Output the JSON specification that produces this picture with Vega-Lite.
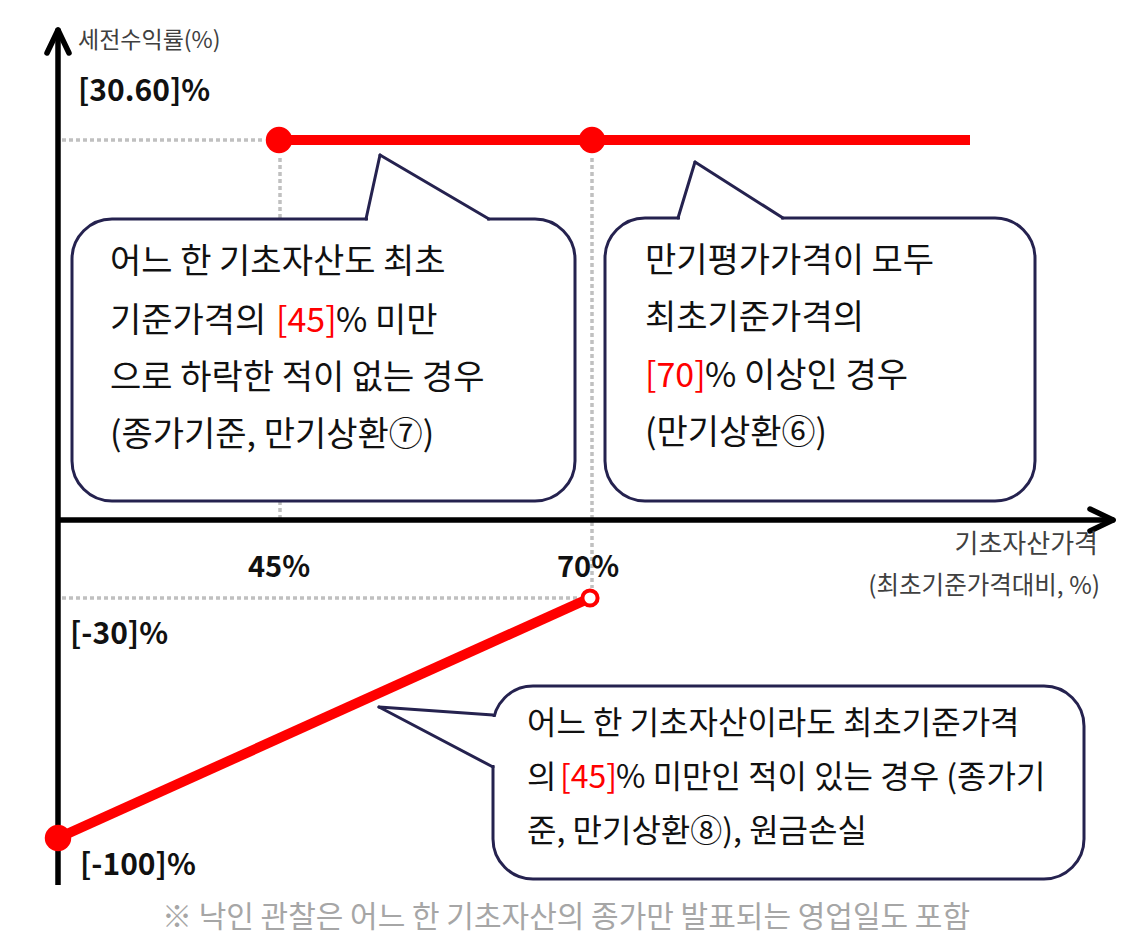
{
  "$schema": "https://vega.github.io/schema/vega-lite/v6.json",
  "width": 1142,
  "height": 949,
  "autosize": {"type": "fit", "contains": "padding"},
  "padding": 0,
  "background": "white",
  "config": {"view": {"stroke": null}},
  "datasets": {
    "guides": [
      {"x": 4, "y": 380, "x2": 205, "y2": 380},
      {"x": 222, "y": 362, "x2": 222, "y2": 0},
      {"x": 534, "y": 362, "x2": 534, "y2": -68},
      {"x": 4, "y": -78, "x2": 520, "y2": -78}
    ],
    "axes": [
      {"x": 0, "y": -365, "x2": 0, "y2": 488},
      {"x": 0, "y": 0, "x2": 1053, "y2": 0}
    ],
    "arrows": [
      {"x": -11, "y": 467, "x2": 0, "y2": 490},
      {"x": 11, "y": 467, "x2": 0, "y2": 490},
      {"x": 1032, "y": 11, "x2": 1055, "y2": 0},
      {"x": 1032, "y": -11, "x2": 1055, "y2": 0}
    ],
    "payoff": [
      {"x": 222, "y": 380, "x2": 912, "y2": 380},
      {"x": 0, "y": -318, "x2": 532, "y2": -78}
    ],
    "boxes": [
      {"x": 14, "y": 301, "x2": 517, "y2": 19},
      {"x": 547, "y": 302, "x2": 977, "y2": 19},
      {"x": 435, "y": -166, "x2": 1026, "y2": -359}
    ],
    "tailGaps": [
      {"x": 310, "y": 301, "x2": 429, "y2": 301},
      {"x": 622, "y": 302, "x2": 723, "y2": 302},
      {"x": 435, "y": -197, "x2": 435, "y2": -245}
    ],
    "tails": [
      {"x": 308, "y": 301, "x2": 322, "y2": 365},
      {"x": 322, "y": 365, "x2": 431, "y2": 301},
      {"x": 620, "y": 302, "x2": 637, "y2": 358},
      {"x": 637, "y": 358, "x2": 725, "y2": 302},
      {"x": 435, "y": -195, "x2": 321, "y2": -187},
      {"x": 321, "y": -187, "x2": 435, "y2": -247}
    ],
    "dots": [
      {"x": 221, "y": 380},
      {"x": 534, "y": 380},
      {"x": 0, "y": -318}
    ],
    "hollow": [
      {"x": 532, "y": -78}
    ],
    "topBoxText": [
      {"x": 52, "y": 257, "text": "어느 한 기초자산도 최초", "part": "body"},
      {"x": 52, "y": 198, "text": "기준가격의", "part": "body"},
      {"x": 218, "y": 198, "text": "[45]", "part": "highlight"},
      {"x": 278, "y": 198, "text": "% 미만", "part": "body"},
      {"x": 52, "y": 141, "text": "으로 하락한 적이 없는 경우", "part": "body"},
      {"x": 52, "y": 84, "text": "(종가기준, 만기상환⑦)", "part": "body"},
      {"x": 587, "y": 258, "text": "만기평가가격이 모두", "part": "body"},
      {"x": 587, "y": 201, "text": "최초기준가격의", "part": "body"},
      {"x": 587, "y": 143, "text": "[70]", "part": "highlight"},
      {"x": 647, "y": 143, "text": "% 이상인 경우", "part": "body"},
      {"x": 587, "y": 86, "text": "(만기상환⑥)", "part": "body"}
    ],
    "lowBoxText": [
      {"x": 469, "y": -204, "text": "어느 한 기초자산이라도 최초기준가격", "part": "body"},
      {"x": 469, "y": -258, "text": "의", "part": "body"},
      {"x": 502, "y": -258, "text": "[45]", "part": "highlight"},
      {"x": 558, "y": -258, "text": "% 미만인 적이 있는 경우 (종가기", "part": "body"},
      {"x": 469, "y": -312, "text": "준, 만기상환⑧), 원금손실", "part": "body"}
    ],
    "valueLeft": [
      {"x": 20, "y": 428, "text": "[30.60]%"},
      {"x": 12, "y": -115, "text": "[-30]%"},
      {"x": 22, "y": -346, "text": "[-100]%"}
    ],
    "valueCenter": [
      {"x": 221, "y": -48, "text": "45%"},
      {"x": 530, "y": -48, "text": "70%"}
    ],
    "yTitle": [
      {"x": 20, "y": 479, "text": "세전수익률(%)"}
    ],
    "xTitle": [
      {"x": 1040, "y": -25, "text": "기초자산가격", "size": "big"},
      {"x": 1042, "y": -67, "text": "(최초기준가격대비, %)", "size": "small"}
    ],
    "note": [
      {"x": 508, "y": -398, "text": "※ 낙인 관찰은 어느 한 기초자산의 종가만 발표되는 영업일도 포함"}
    ]
  },
  "encoding": {
    "x": {"field": "x", "type": "quantitative", "scale": {"domain": [-58, 1084], "nice": false, "zero": false}, "axis": null},
    "y": {"field": "y", "type": "quantitative", "scale": {"domain": [-429, 520], "nice": false, "zero": false}, "axis": null}
  },
  "layer": [
    {
      "data": {"name": "guides"},
      "mark": {"type": "rule", "stroke": "#c0c0c0", "strokeWidth": 3.5, "strokeDash": [4, 3]},
      "encoding": {"x2": {"field": "x2"}, "y2": {"field": "y2"}}
    },
    {
      "data": {"name": "axes"},
      "mark": {"type": "rule", "stroke": "black", "strokeWidth": 5.5},
      "encoding": {"x2": {"field": "x2"}, "y2": {"field": "y2"}}
    },
    {
      "data": {"name": "arrows"},
      "mark": {"type": "rule", "stroke": "black", "strokeWidth": 5.5, "strokeCap": "round"},
      "encoding": {"x2": {"field": "x2"}, "y2": {"field": "y2"}}
    },
    {
      "data": {"name": "payoff"},
      "mark": {"type": "rule", "stroke": "#ff0000", "strokeWidth": 10},
      "encoding": {"x2": {"field": "x2"}, "y2": {"field": "y2"}}
    },
    {
      "data": {"name": "boxes"},
      "mark": {"type": "rect", "fill": "white", "stroke": "#25224f", "strokeWidth": 3, "cornerRadius": 40},
      "encoding": {"x2": {"field": "x2"}, "y2": {"field": "y2"}}
    },
    {
      "data": {"name": "tailGaps"},
      "mark": {"type": "rule", "stroke": "white", "strokeWidth": 6},
      "encoding": {"x2": {"field": "x2"}, "y2": {"field": "y2"}}
    },
    {
      "data": {"name": "tails"},
      "mark": {"type": "rule", "stroke": "#25224f", "strokeWidth": 3, "strokeCap": "round"},
      "encoding": {"x2": {"field": "x2"}, "y2": {"field": "y2"}}
    },
    {
      "data": {"name": "dots"},
      "mark": {"type": "point", "shape": "circle", "filled": true, "color": "#ff0000", "opacity": 1, "size": 700}
    },
    {
      "data": {"name": "hollow"},
      "mark": {"type": "point", "shape": "circle", "filled": false, "fill": "white", "fillOpacity": 1, "stroke": "#ff0000", "strokeWidth": 4, "opacity": 1, "size": 230}
    },
    {
      "data": {"name": "topBoxText"},
      "mark": {"type": "text", "align": "left", "baseline": "middle", "font": "Noto Sans CJK KR", "fontSize": 34},
      "encoding": {
        "text": {"field": "text"},
        "color": {"field": "part", "type": "nominal", "scale": {"domain": ["body", "highlight"], "range": ["#111111", "#ff0000"]}, "legend": null}
      }
    },
    {
      "data": {"name": "lowBoxText"},
      "mark": {"type": "text", "align": "left", "baseline": "middle", "font": "Noto Sans CJK KR", "fontSize": 32},
      "encoding": {
        "text": {"field": "text"},
        "color": {"field": "part", "type": "nominal", "scale": {"domain": ["body", "highlight"], "range": ["#111111", "#ff0000"]}, "legend": null}
      }
    },
    {
      "data": {"name": "valueLeft"},
      "mark": {"type": "text", "align": "left", "baseline": "middle", "font": "Noto Sans CJK KR", "fontSize": 30, "fontWeight": "bold", "color": "#111111"},
      "encoding": {"text": {"field": "text"}}
    },
    {
      "data": {"name": "valueCenter"},
      "mark": {"type": "text", "align": "center", "baseline": "middle", "font": "Noto Sans CJK KR", "fontSize": 29, "fontWeight": "bold", "color": "#111111"},
      "encoding": {"text": {"field": "text"}}
    },
    {
      "data": {"name": "yTitle"},
      "mark": {"type": "text", "align": "left", "baseline": "middle", "font": "Noto Sans CJK KR", "fontSize": 23, "color": "#404040"},
      "encoding": {"text": {"field": "text"}}
    },
    {
      "data": {"name": "xTitle"},
      "mark": {"type": "text", "align": "right", "baseline": "middle", "font": "Noto Sans CJK KR", "color": "#404040"},
      "encoding": {
        "text": {"field": "text"},
        "size": {"field": "size", "type": "nominal", "scale": {"domain": ["big", "small"], "range": [26, 24.5]}, "legend": null}
      }
    },
    {
      "data": {"name": "note"},
      "mark": {"type": "text", "align": "center", "baseline": "middle", "font": "Noto Sans CJK KR", "fontSize": 30, "color": "#a6a6a6"},
      "encoding": {"text": {"field": "text"}}
    }
  ]
}
